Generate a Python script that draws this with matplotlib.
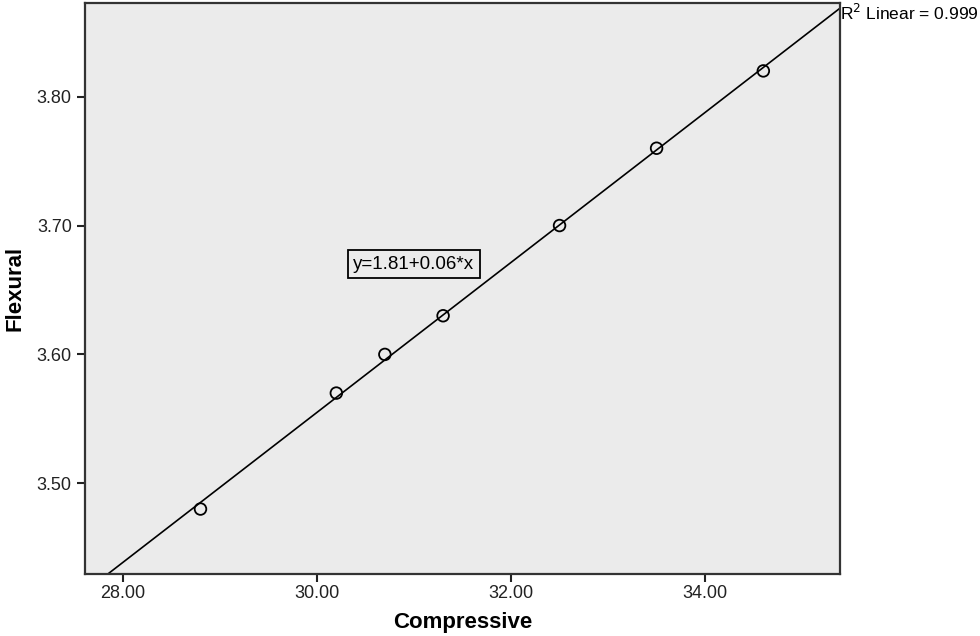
import matplotlib.pyplot as plt
import numpy as np

plt.rcParams["font.family"] = ["Liberation Sans", "DejaVu Sans"]

compressive = np.array([28.8, 30.2, 30.7, 31.3, 32.5, 33.5, 34.6])
flexural = np.array([3.48, 3.57, 3.60, 3.63, 3.70, 3.76, 3.82])
x_ticks = [28.0, 30.0, 32.0, 34.0]
y_ticks = [3.50, 3.60, 3.70, 3.80]
r2_text = "R$^2$ Linear = 0.999"
eq_text = "y=1.81+0.06*x"

fig = plt.figure(figsize=(9.8, 6.36), dpi=100)
ax = fig.add_axes([85 / 980, 1 - 574 / 636, 755 / 980, 571 / 636])
ax.set_facecolor("#ebebeb")

xlim = (27.61, 35.39)
ylim = (3.4296, 3.8727)

# least-squares fit, drawn across full x range
slope, icpt = np.polyfit(compressive, flexural, 1)
xf = np.array(xlim)
ax.plot(xf, icpt + slope * xf, color="black", lw=1.2, zorder=2)

ax.scatter(compressive, flexural, s=70, facecolors="none", edgecolors="black",
           linewidths=1.3, zorder=3)

ax.set_xlim(*xlim)
ax.set_ylim(*ylim)
ax.set_xticks(x_ticks)
ax.set_yticks(y_ticks)
ax.set_xticklabels([f"{v:.2f}" for v in x_ticks])
ax.set_yticklabels([f"{v:.2f}" for v in y_ticks])
ax.tick_params(direction="out", length=6, width=1.5, labelsize=13, colors="#222222")
ax.tick_params(axis="x", pad=2)
for s in ax.spines.values():
    s.set_linewidth(1.6)
    s.set_color("#333333")

ax.set_xlabel("Compressive", fontsize=16, fontweight="bold", labelpad=7)
ax.set_ylabel("Flexural", fontsize=16, fontweight="bold", labelpad=8)

ax.text(1.0, 0.982, r2_text, transform=ax.transAxes, fontsize=12.5,
        ha="left", va="center", clip_on=False)
ax.text(31.0, 3.670, eq_text, fontsize=13.5, ha="center", va="center",
        bbox=dict(boxstyle="square,pad=0.3", facecolor="#ebebeb",
                  edgecolor="black", linewidth=1.3))

fig.savefig("out.png", dpi=100)
